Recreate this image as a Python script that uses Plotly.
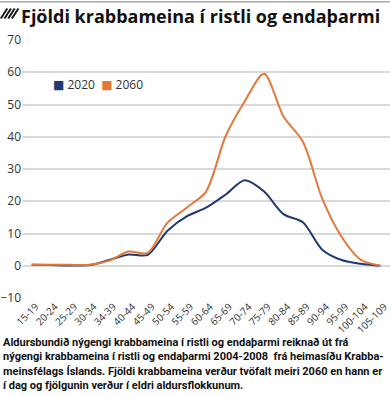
import plotly.graph_objects as go

categories = ["15-19", "20-24", "25-29", "30-34", "34-39", "40-44", "45-49", "50-54",
              "55-59", "60-64", "65-69", "70-74", "75-79", "80-84", "85-89", "90-94",
              "95-99", "100-104", "105-109"]
values_2020 = [0.3, 0.2, 0.1, 0.2, 1.8, 3.5, 3.4, 10.8, 15.3, 18.0, 22.0, 26.5, 23.0,
               16.0, 13.5, 5.0, 1.8, 0.6, 0.0]
values_2060 = [0.4, 0.3, 0.3, 0.3, 1.6, 4.4, 4.0, 13.3, 18.0, 23.0, 40.0, 51.0, 59.5,
               46.3, 38.5, 20.8, 9.0, 1.8, 0.0]
series_names = ["2020", "2060"]
colors = ["#1f3a72", "#e2793b"]
y_ticks = [-10, 0, 10, 20, 30, 40, 50, 60, 70]

title_text = "Fjöldi krabbameina í ristli og endaþarmi"
caption_lines = [
    "Aldursbundið nýgengi krabbameina í ristli og endaþarmi reiknað út frá",
    "nýgengi krabbameina í ristli og endaþarmi 2004-2008  frá heimasíðu Krabba-",
    "meinsfélags Íslands. Fjöldi krabbameina verður tvöfalt meiri 2060 en hann er",
    "í dag og fjölgunin verður í eldri aldursflokkunum.",
]

W, H = 390, 396
L, R, T, B = 22, 0, 40, 98
PW, PH = W - L - R, H - T - B


def px(x):
    return (x - L) / PW


def py(y):
    return (H - B - y) / PH


fig = go.Figure()
for name, vals, col in zip(series_names, [values_2020, values_2060], colors):
    fig.add_trace(go.Scatter(x=categories, y=vals, mode="lines", name=name,
                             line=dict(color=col, width=2, shape="spline", smoothing=0.8),
                             showlegend=False, hoverinfo="skip"))

shapes = [dict(type="line", xref="paper", yref="paper", x0=px(0), x1=px(W),
               y0=py(1.8), y1=py(1.8), line=dict(color="#a8a8a8", width=1.5))]
for i in range(4):
    x0 = 0.8 + 3.7 * i
    shapes.append(dict(type="line", xref="paper", yref="paper",
                       x0=px(x0), y0=py(18.5), x1=px(x0 + 6.5), y1=py(8.5),
                       line=dict(color="#1a1a1a", width=2)))

annotations = [dict(text="<b>" + title_text + "</b>", xref="paper", yref="paper",
                    x=px(19), y=py(16), xanchor="left", yanchor="middle",
                    showarrow=False, font=dict(family="Open Sans", size=18, color="#111111"))]

legend_text = "  ".join(
    "<span style='color:%s'>■</span> %s" % (c, n) for n, c in zip(series_names, colors))
annotations.append(dict(text=legend_text, xref="paper", yref="paper",
                        x=px(51), y=py(84), xanchor="left", yanchor="middle",
                        showarrow=False,
                        font=dict(family="Open Sans, DejaVu Sans", size=12, color="#333333")))

annotations.append(dict(text="<br>".join("<b>" + s + "</b>" for s in caption_lines),
                        xref="paper", yref="paper", x=px(1), y=py(334),
                        xanchor="left", yanchor="top", align="left", showarrow=False,
                        font=dict(family="Roboto", size=11, color="#111111")))

fig.update_layout(
    width=W, height=H,
    margin=dict(l=L, r=R, t=T, b=B, pad=0),
    paper_bgcolor="white", plot_bgcolor="white",
    font=dict(family="Open Sans", color="#333333", size=11),
    showlegend=False,
    xaxis=dict(type="category", range=[-0.5, len(categories) - 0.5], tickangle=-45,
               showgrid=False, zeroline=False, showline=False, ticks="",
               tickfont=dict(size=10, color="#333333"), automargin=False,
               ticklabelshift=4),
    yaxis=dict(range=[-10, 70], tickvals=y_ticks, showgrid=True, gridcolor="#d9d9d9",
               gridwidth=1.5, zeroline=True, zerolinecolor="#d9d9d9", zerolinewidth=1.5,
               showline=False, ticks="", tickfont=dict(size=12, color="#333333"),
               automargin=False),
    shapes=shapes,
    annotations=annotations,
)

fig.write_html("out.html", config={"displayModeBar": False},
               post_script="document.body.style.margin='0px';")
